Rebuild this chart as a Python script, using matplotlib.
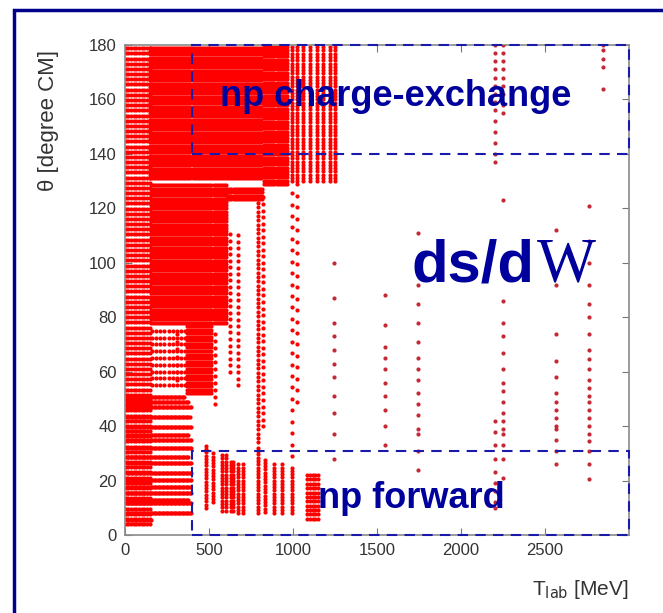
import numpy as np
import matplotlib
matplotlib.use('Agg')
import matplotlib.pyplot as plt
from matplotlib.patches import Rectangle

# np data coverage: T_lab [MeV] vs theta [deg CM]

# dense blocks of measurements: T_lab range/step, theta range/step
blk_T_lo = [4, 150, 830, 155, 610, 370, 160]
blk_T_hi = [148, 820, 970, 600, 820, 520, 360]
blk_dT = [16, 12, 12, 12, 12, 12, 25]
blk_th_lo = [4, 131, 129, 78, 123.5, 52, 55]
blk_th_hi = [180, 180, 180, 129, 128, 77, 77]
blk_dth = [1.9, 1.2, 1.2, 1.2, 1.2, 1.3, 2.5]

# low-angle rows (fixed theta, T_lab from 10 up to row_T_hi)
row_theta = [5.5, 8.1, 11.8, 12.9, 15.4, 17.6, 20.2, 22.8, 26.5,
             28.7, 32.0, 34.9, 36.7, 39.7, 43.4, 47.0, 48.9, 50.7]
row_T_hi = [160, 400, 395, 380, 400, 390, 400, 395, 400,
            385, 400, 395, 380, 400, 390, 400, 380, 360]

# single-energy angular distributions: T_lab, theta from/to, step
col_T = [994, 1024, 1060, 1101, 1143, 1179, 1220, 1252,
         485, 525, 580, 600, 630, 645, 675, 700, 790, 833, 887, 934, 994,
         1083, 1100, 1117, 1133, 1150,
         625, 670, 535, 310, 790, 820, 994, 1025]
col_th_lo = [130, 130, 130, 130, 130, 130, 130, 130,
             10, 12, 9, 9, 9, 9, 8, 8, 8, 8.5, 8, 8, 8,
             6, 6, 6, 6, 6,
             60, 55, 48, 57, 34, 40, 29, 49]
col_th_hi = [180, 180, 180, 180, 180, 180, 180, 180,
             33, 30, 30, 30, 28, 28, 27, 26, 32, 28.5, 27, 26, 25,
             23, 23, 22, 22, 22,
             112, 112, 74, 75, 124, 124, 128, 130]
col_dth = [1.2, 1.2, 1.2, 1.2, 1.2, 1.2, 1.2, 1.2,
           1.2, 1.2, 1.2, 1.2, 1.2, 1.2, 1.2, 1.2, 1.2, 1.2, 1.2, 1.2, 1.2,
           1.6, 1.6, 1.6, 1.6, 1.6,
           2.4, 2.4, 2.6, 2.8, 1.6, 2.4, 4.2, 4.2]

# sparse high-energy angular distributions
sparse_T = [1244, 1548, 1746, 2200, 2250, 2565, 2760, 2845]
sparse_theta = [
    [100, 87, 78, 73, 68, 63, 58, 51, 45, 37, 28],
    [88, 77, 69, 65, 61, 56, 51, 46, 40, 33],
    [111, 92, 85, 78, 71, 65, 61, 57, 52, 48, 44, 39, 37, 31, 24],
    [180, 177, 174, 171, 168, 165, 162, 159, 156, 152, 148, 144, 140, 137,
     42, 38, 33, 28, 23, 19, 16, 12, 10],
    [180, 177, 174, 171, 168, 165, 162, 158, 155, 123, 97, 86, 78, 73, 67,
     61, 56, 53, 49, 45, 42, 39, 37, 33, 28, 21],
    [112, 92, 74, 64, 58, 52, 49, 46, 43, 40, 39, 35, 31, 26],
    [121, 108, 100, 92, 85, 80, 74, 68, 64.5, 61, 57, 54, 51, 49, 46, 43,
     40, 37, 34.5, 31, 26, 20.5],
    [180, 178, 175, 172, 164],
]

# regions marked on the plot
box_T = [400, 3000]
box_cex_theta = [140, 180]
box_fwd_theta = [0, 31]


def expand():
    T, th = [], []
    for t0, t1, dt, a0, a1, da in zip(blk_T_lo, blk_T_hi, blk_dT,
                                      blk_th_lo, blk_th_hi, blk_dth):
        tt, aa = np.meshgrid(np.arange(t0, t1 + 1e-9, dt),
                             np.arange(a0, a1 + 1e-9, da))
        T.append(tt.ravel())
        th.append(aa.ravel())
    for a, t1 in zip(row_theta, row_T_hi):
        tt = np.arange(10, t1 + 1e-9, 8)
        T.append(tt)
        th.append(np.full_like(tt, a, dtype=float))
    for t, a0, a1, da in zip(col_T, col_th_lo, col_th_hi, col_dth):
        aa = np.arange(a0, a1 + 1e-9, da)
        T.append(np.full_like(aa, t, dtype=float))
        th.append(aa)
    return np.concatenate(T), np.concatenate(th)


plt.rcParams['font.family'] = ['Liberation Sans', 'DejaVu Sans']
navy = '#00009c'

fig = plt.figure(figsize=(6.63, 6.13), dpi=100)
ax = fig.add_axes([0.1885, 0.1272, 0.7602, 0.7994])

T, th = expand()
ax.scatter(T, th, s=9, c='#ff0000', linewidths=0, zorder=2)
for t, angles in zip(sparse_T, sparse_theta):
    ax.scatter(np.full(len(angles), t), angles, s=9, c='#c42a36',
               linewidths=0, zorder=3)

ax.set_xlim(0, 3000)
ax.set_ylim(0, 180)
ax.set_xticks([0, 500, 1000, 1500, 2000, 2500])
ax.set_yticks(np.arange(0, 181, 20))
ax.tick_params(direction='in', top=True, right=True, length=5,
               color='#777777', labelcolor='#333333', labelsize=12, pad=6)
for s in ax.spines.values():
    s.set_color('#8a8a8a')
    s.set_linewidth(1.2)

ax.set_ylabel('θ [degree CM]', fontsize=16, color='#333333')
ax.yaxis.set_label_coords(-0.13, 0.845)
ax.set_xlabel('T$_{\\rm lab}$ [MeV]', fontsize=15, color='#333333', loc='right')
ax.xaxis.set_label_coords(1.0, -0.088)

for lo, hi in (box_cex_theta, box_fwd_theta):
    ax.add_patch(Rectangle((box_T[0], lo), box_T[1] - box_T[0], hi - lo,
                           fill=False, ec='#1a1aaa', lw=1.5,
                           ls=(0, (5, 3.5)), clip_on=False, zorder=5))

ax.text(565, 157.5, 'np charge-exchange', fontsize=26, fontweight='bold',
        color=navy, va='baseline', zorder=6)
ax.text(1149, 10, 'np forward', fontsize=26, fontweight='bold',
        color=navy, va='baseline', zorder=6)
ax.text(1708, 93, 'ds/d', fontsize=43, fontweight='bold',
        color=navy, va='baseline', zorder=6)
ax.text(2450, 93, 'W', fontsize=45, family='Liberation Serif',
        color=navy, va='baseline', zorder=6)

# outer frame of the slide
fig.add_artist(Rectangle((14 / 663, -0.2), 1.2, 1.2 - 10 / 613,
                         transform=fig.transFigure, fill=False,
                         ec='#00008b', lw=2.5))

fig.savefig('out.png', dpi=100)
